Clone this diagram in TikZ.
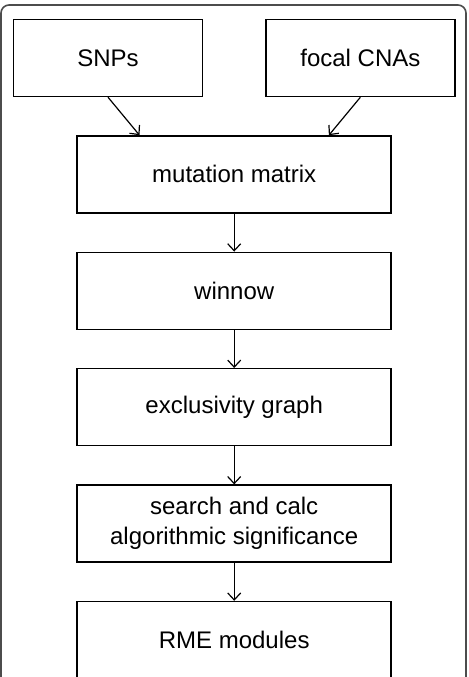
\documentclass[tikz,border=0pt]{standalone}
\usepackage{fontspec}
\setmainfont{Liberation Sans}
\usepackage{tikz}
\usetikzlibrary{arrows.meta,positioning,calc}

\begin{document}
\begin{tikzpicture}[
    smallbox/.style={draw, line width=0.7pt, minimum width=94.5pt, minimum height=38.5pt, align=center, font=\fontsize{12}{15}\selectfont},
    bigbox/.style={smallbox, minimum width=157pt},
    arrow/.style={-{Straight Barb[length=3.5pt,width=6.5pt]}, line width=0.6pt},
    node distance=19pt
]
\useasboundingbox (0,0) rectangle (234.5pt,-338.5pt);
% outer frame
\draw[gray!60!black, line width=0.8pt, rounded corners=4pt] (0.5pt,-345pt) |- (233pt,-2.5pt) -- (233pt,-345pt);

\node[smallbox] (snp) at (54pt,-29pt) {SNPs};
\node[smallbox, right=31pt of snp] (cna) {focal CNAs};
\coordinate (mid) at ($(snp.south)!0.5!(cna.south)$);
\node[bigbox, below=of mid, anchor=north] (mm) {mutation matrix};
\node[bigbox, below=of mm] (win) {winnow};
\node[bigbox, below=of win] (excl) {exclusivity graph};
\node[bigbox, below=of excl] (search) {search and calc\\algorithmic significance};
\node[bigbox, below=of search] (rme) {RME modules};

\draw[arrow] (snp.south) -- ([xshift=31.5pt]mm.north west);
\draw[arrow] (cna.south) -- ([xshift=-31.5pt]mm.north east);
\draw[arrow] (mm) -- (win);
\draw[arrow] (win) -- (excl);
\draw[arrow] (excl) -- (search);
\draw[arrow] (search) -- (rme);
\end{tikzpicture}
\end{document}
